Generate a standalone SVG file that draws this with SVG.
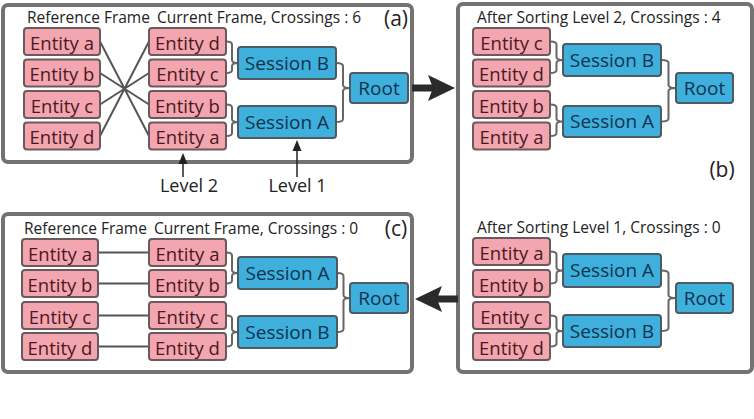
<svg xmlns="http://www.w3.org/2000/svg" width="754" height="419" viewBox="0 0 754 419">
<style>
.panel{fill:#fff;stroke:#727272;stroke-width:4}
.ent rect{fill:#f3a6b0;stroke:#6a5a5c;stroke-width:2}
.ent text{fill:#4a1822;font-family:"Open Sans",sans-serif;font-size:18.5px;text-anchor:middle}
.ses rect{fill:#3fafdc;stroke:#4e5a62;stroke-width:2}
.ses text{fill:#0f3350;font-family:"Open Sans",sans-serif;font-size:19px;text-anchor:middle}
.lbl{fill:#222;font-family:"Open Sans",sans-serif;font-size:15.5px}
.tag{fill:#222;font-family:"Open Sans",sans-serif;font-size:21px;text-anchor:middle}
.lvl{fill:#222;font-family:"Open Sans",sans-serif;font-size:18px;text-anchor:middle}
.br{fill:none;stroke:#666;stroke-width:2}
.ln{fill:none;stroke:#555;stroke-width:2}
.big{stroke:#2b2b2b;stroke-width:7}
</style>
<rect width="754" height="419" fill="#fff"/>
<g id="panel-a"><rect class="panel" x="3" y="5" width="409" height="157" rx="5"/>
<text class="lbl" x="27" y="22.5">Reference Frame</text>
<text class="lbl" x="157" y="22.5">Current Frame, Crossings : 6</text>
<text class="tag" x="396" y="26">(a)</text></g>
<g id="panel-b"><rect class="panel" x="458" y="4" width="294" height="368" rx="5"/>
<text class="lbl" x="477" y="22.5">After Sorting Level 2, Crossings : 4</text>
<text class="lbl" x="477" y="233">After Sorting Level 1, Crossings : 0</text>
<text class="tag" x="722" y="177">(b)</text></g>
<g id="panel-c"><rect class="panel" x="3" y="214" width="409" height="158" rx="5"/>
<text class="lbl" x="24" y="233.5">Reference Frame</text>
<text class="lbl" x="154" y="233.5">Current Frame, Crossings : 0</text>
<text class="tag" x="396" y="236">(c)</text></g>

<g id="connectors">
<path class="ln" d="M100,41.5 L149,136 M100,73 L149,104.5 M100,104.5 L149,73 M100,136 L149,41.5"/>
<path class="br" d="M226,41.5 Q232,41.5 232,44.5 L232,60 Q232,63 238,63 Q232,63 232,66 L232,70 Q232,73 226,73"/>
<path class="br" d="M226,104.5 Q232,104.5 232,107.5 L232,119 Q232,122 238,122 Q232,122 232,125 L232,133 Q232,136 226,136"/>
<path class="br" d="M336,63 Q343,63 343,66 L343,85 Q343,88 350,88 Q343,88 343,91 L343,119 Q343,122 336,122"/>
<path class="br" d="M550,41.5 Q556.5,41.5 556.5,44.5 L556.5,57 Q556.5,60 563,60 Q556.5,60 556.5,63 L556.5,70 Q556.5,73 550,73"/>
<path class="br" d="M550,104.5 Q556.5,104.5 556.5,107.5 L556.5,118.5 Q556.5,121.5 563,121.5 Q556.5,121.5 556.5,124.5 L556.5,133 Q556.5,136 550,136"/>
<path class="br" d="M661,60 Q668.5,60 668.5,63 L668.5,85 Q668.5,88 676,88 Q668.5,88 668.5,91 L668.5,118.5 Q668.5,121.5 661,121.5"/>
<path class="br" d="M550,251.5 Q556.5,251.5 556.5,254.5 L556.5,267.5 Q556.5,270.5 563,270.5 Q556.5,270.5 556.5,273.5 L556.5,280.5 Q556.5,283.5 550,283.5"/>
<path class="br" d="M550,315.5 Q556.5,315.5 556.5,318.5 L556.5,328 Q556.5,331 563,331 Q556.5,331 556.5,334 L556.5,343.5 Q556.5,346.5 550,346.5"/>
<path class="br" d="M661,270.5 Q668.5,270.5 668.5,273.5 L668.5,295 Q668.5,298 676,298 Q668.5,298 668.5,301 L668.5,328 Q668.5,331 661,331"/>
<path class="ln" d="M98,252.5 H149 M98,283.5 H149 M98,315.5 H149 M98,346.5 H149"/>
<path class="br" d="M226,252.5 Q232,252.5 232,255.5 L232,270 Q232,273 238,273 Q232,273 232,276 L232,280.5 Q232,283.5 226,283.5"/>
<path class="br" d="M226,315.5 Q232,315.5 232,318.5 L232,329 Q232,332 238,332 Q232,332 232,335 L232,343.5 Q232,346.5 226,346.5"/>
<path class="br" d="M337,273 Q343.5,273 343.5,276 L343.5,295 Q343.5,298 350,298 Q343.5,298 343.5,301 L343.5,329 Q343.5,332 337,332"/>
<line class="big" x1="412" y1="88" x2="434" y2="88"/>
<polygon fill="#2b2b2b" points="428,75 455,88 428,101 433,88"/>
<line class="big" x1="458" y1="299" x2="436" y2="299"/>
<polygon fill="#2b2b2b" points="442,286 415,299 442,312 437,299"/>
<line stroke="#222" stroke-width="1.5" x1="183" y1="177" x2="183" y2="162"/>
<polygon fill="#222" points="178.5,164 183,153 187.5,164"/>
<line stroke="#222" stroke-width="1.5" x1="297" y1="177" x2="297" y2="149"/>
<polygon fill="#222" points="292.5,151 297,140 301.5,151"/>
</g>

<text class="lvl" x="189" y="192">Level 2</text>
<text class="lvl" x="297.5" y="192">Level 1</text>

<g id="a-ref-a" class="ent"><rect x="24" y="28" width="76" height="27" rx="3"/><text x="62" y="49.5">Entity a</text></g>
<g id="a-ref-b" class="ent"><rect x="24" y="59.5" width="76" height="27" rx="3"/><text x="62" y="81">Entity b</text></g>
<g id="a-ref-c" class="ent"><rect x="24" y="91" width="76" height="27" rx="3"/><text x="62" y="112.5">Entity c</text></g>
<g id="a-ref-d" class="ent"><rect x="24" y="122.5" width="76" height="27" rx="3"/><text x="62" y="144">Entity d</text></g>
<g id="a-cur-d" class="ent"><rect x="149" y="28" width="77" height="27" rx="3"/><text x="187.5" y="49.5">Entity d</text></g>
<g id="a-cur-c" class="ent"><rect x="149" y="59.5" width="77" height="27" rx="3"/><text x="187.5" y="81">Entity c</text></g>
<g id="a-cur-b" class="ent"><rect x="149" y="91" width="77" height="27" rx="3"/><text x="187.5" y="112.5">Entity b</text></g>
<g id="a-cur-a" class="ent"><rect x="149" y="122.5" width="77" height="27" rx="3"/><text x="187.5" y="144">Entity a</text></g>
<g id="a-ses-b" class="ses"><rect x="238" y="47" width="98" height="32" rx="3"/><text x="287" y="69.5">Session B</text></g>
<g id="a-ses-a" class="ses"><rect x="238" y="106" width="98" height="32" rx="3"/><text x="287" y="128.5">Session A</text></g>
<g id="a-root" class="ses"><rect x="350" y="73" width="58" height="30" rx="3"/><text x="379" y="94.5">Root</text></g>

<g id="b2-c" class="ent"><rect x="473" y="28" width="77" height="27" rx="3"/><text x="511.5" y="49.5">Entity c</text></g>
<g id="b2-d" class="ent"><rect x="473" y="59.5" width="77" height="27" rx="3"/><text x="511.5" y="81">Entity d</text></g>
<g id="b2-b" class="ent"><rect x="473" y="91" width="77" height="27" rx="3"/><text x="511.5" y="112.5">Entity b</text></g>
<g id="b2-a" class="ent"><rect x="473" y="122.5" width="77" height="27" rx="3"/><text x="511.5" y="144">Entity a</text></g>
<g id="b2-ses-b" class="ses"><rect x="563" y="44" width="98" height="32" rx="3"/><text x="612" y="66.5">Session B</text></g>
<g id="b2-ses-a" class="ses"><rect x="563" y="106" width="98" height="31" rx="3"/><text x="612" y="128">Session A</text></g>
<g id="b2-root" class="ses"><rect x="676" y="73" width="57" height="30" rx="3"/><text x="704.5" y="94.5">Root</text></g>

<g id="b1-a" class="ent"><rect x="473" y="238" width="77" height="27" rx="3"/><text x="511.5" y="259.5">Entity a</text></g>
<g id="b1-b" class="ent"><rect x="473" y="270" width="77" height="27" rx="3"/><text x="511.5" y="291.5">Entity b</text></g>
<g id="b1-c" class="ent"><rect x="473" y="302" width="77" height="27" rx="3"/><text x="511.5" y="323.5">Entity c</text></g>
<g id="b1-d" class="ent"><rect x="473" y="333" width="77" height="27" rx="3"/><text x="511.5" y="354.5">Entity d</text></g>
<g id="b1-ses-a" class="ses"><rect x="563" y="254" width="98" height="33" rx="3"/><text x="612" y="277">Session A</text></g>
<g id="b1-ses-b" class="ses"><rect x="563" y="315" width="98" height="32" rx="3"/><text x="612" y="337.5">Session B</text></g>
<g id="b1-root" class="ses"><rect x="676" y="283" width="57" height="30" rx="3"/><text x="704.5" y="304.5">Root</text></g>

<g id="c-ref-a" class="ent"><rect x="22" y="239" width="76" height="27" rx="3"/><text x="60" y="260.5">Entity a</text></g>
<g id="c-ref-b" class="ent"><rect x="22" y="270" width="76" height="27" rx="3"/><text x="60" y="291.5">Entity b</text></g>
<g id="c-ref-c" class="ent"><rect x="22" y="302" width="76" height="27" rx="3"/><text x="60" y="323.5">Entity c</text></g>
<g id="c-ref-d" class="ent"><rect x="22" y="333" width="76" height="27" rx="3"/><text x="60" y="354.5">Entity d</text></g>
<g id="c-cur-a" class="ent"><rect x="149" y="239" width="77" height="27" rx="3"/><text x="187.5" y="260.5">Entity a</text></g>
<g id="c-cur-b" class="ent"><rect x="149" y="270" width="77" height="27" rx="3"/><text x="187.5" y="291.5">Entity b</text></g>
<g id="c-cur-c" class="ent"><rect x="149" y="302" width="77" height="27" rx="3"/><text x="187.5" y="323.5">Entity c</text></g>
<g id="c-cur-d" class="ent"><rect x="149" y="333" width="77" height="27" rx="3"/><text x="187.5" y="354.5">Entity d</text></g>
<g id="c-ses-a" class="ses"><rect x="238" y="257" width="99" height="32" rx="3"/><text x="287.5" y="279.5">Session A</text></g>
<g id="c-ses-b" class="ses"><rect x="238" y="316" width="99" height="32" rx="3"/><text x="287.5" y="338.5">Session B</text></g>
<g id="c-root" class="ses"><rect x="350" y="283" width="58" height="30" rx="3"/><text x="379" y="304.5">Root</text></g>
</svg>
